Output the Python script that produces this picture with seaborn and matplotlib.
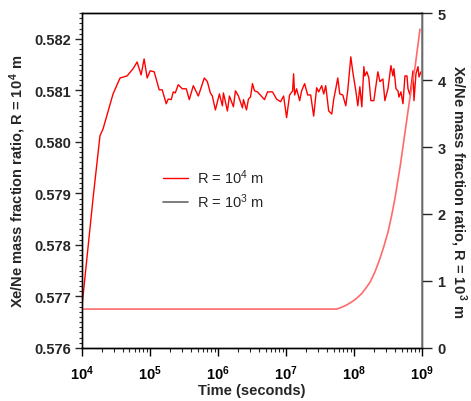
"""
Xe/Ne mass fraction ratio vs time for two radii (twin y axes, log time).
"""

import numpy as np
import pandas as pd
import matplotlib
matplotlib.use("Agg")
import matplotlib.pyplot as plt
import seaborn as sns
from matplotlib.lines import Line2D
from matplotlib.ticker import AutoMinorLocator, LogLocator, NullFormatter

# ─────────────────────────────────────────────
# Data
# ─────────────────────────────────────────────
# R = 10^4 m  -> left axis ; time given as log10(seconds)
log_t_10k = [
    4.000, 4.162, 4.265, 4.310, 4.457, 4.560, 4.664, 4.752, 4.811, 4.870,
    4.914, 4.959, 5.003, 5.062, 5.136, 5.180, 5.239, 5.268, 5.313, 5.342,
    5.372, 5.416, 5.475, 5.534, 5.578, 5.637, 5.711, 5.799, 5.844, 5.888,
    5.917, 5.962, 6.021, 6.065, 6.080, 6.139, 6.168, 6.227, 6.257, 6.301,
    6.360, 6.375, 6.419, 6.448, 6.478, 6.507, 6.537, 6.581, 6.684, 6.729,
    6.802, 6.861, 6.920, 6.965, 7.009, 7.053, 7.097, 7.112, 7.127, 7.156,
    7.201, 7.230, 7.274, 7.319, 7.363, 7.407, 7.451, 7.481, 7.525, 7.555,
    7.584, 7.628, 7.673, 7.702, 7.732, 7.761, 7.791, 7.835, 7.879, 7.909,
    7.953, 7.982, 8.027, 8.056, 8.086, 8.115, 8.145, 8.159, 8.189, 8.218,
    8.248, 8.292, 8.351, 8.381, 8.425, 8.454, 8.499, 8.543, 8.572, 8.587,
    8.617, 8.646, 8.661, 8.690, 8.720, 8.749, 8.779, 8.794, 8.823, 8.867,
    8.882, 8.911, 8.941, 8.956, 8.985,
]
ratio_10k = [
    0.57680, 0.57889, 0.58012, 0.58025, 0.58093, 0.58124, 0.58128, 0.58142, 0.58155, 0.58130,
    0.58161, 0.58124, 0.58138, 0.58136, 0.58101, 0.58101, 0.58074, 0.58083, 0.58082, 0.58097,
    0.58095, 0.58111, 0.58103, 0.58103, 0.58082, 0.58109, 0.58089, 0.58124, 0.58117, 0.58095,
    0.58089, 0.58062, 0.58093, 0.58070, 0.58095, 0.58060, 0.58089, 0.58068, 0.58099, 0.58089,
    0.58066, 0.58082, 0.58062, 0.58083, 0.58087, 0.58113, 0.58099, 0.58097, 0.58082, 0.58097,
    0.58097, 0.58083, 0.58078, 0.58089, 0.58047, 0.58091, 0.58099, 0.58132, 0.58091, 0.58103,
    0.58080, 0.58099, 0.58113, 0.58091, 0.58091, 0.58050, 0.58105, 0.58097, 0.58109, 0.58093,
    0.58109, 0.58060, 0.58054, 0.58083, 0.58103, 0.58124, 0.58093, 0.58091, 0.58070, 0.58101,
    0.58165, 0.58136, 0.58099, 0.58070, 0.58107, 0.58068, 0.58146, 0.58128, 0.58136, 0.58124,
    0.58080, 0.58080, 0.58136, 0.58117, 0.58122, 0.58080, 0.58103, 0.58148, 0.58128, 0.58142,
    0.58103, 0.58099, 0.58087, 0.58097, 0.58074, 0.58128, 0.58128, 0.58103, 0.58091, 0.58138,
    0.58080, 0.58132, 0.58146, 0.58126, 0.58136,
]

# R = 10^3 m  -> right axis
log_t_1k = [4.000, 5.000, 6.000, 7.000, 7.745, 7.800, 7.870, 7.940, 8.000,
            8.060, 8.120, 8.180, 8.235, 8.310, 8.380, 8.440, 8.500, 8.550,
            8.600, 8.680, 8.750, 8.820, 8.900, 8.970]
ratio_1k = [0.58, 0.58, 0.58, 0.58, 0.58, 0.60, 0.63, 0.67, 0.71,
            0.76, 0.82, 0.90, 0.98, 1.14, 1.33, 1.52, 1.73, 1.96,
            2.22, 2.72, 3.22, 3.72, 4.21, 4.76]

x_tick_exps = [4, 5, 6, 7, 8, 9]
left_ticks  = [0.576, 0.577, 0.578, 0.579, 0.580, 0.581, 0.582]
right_ticks = [0, 1, 2, 3, 4, 5]

df_10k = pd.DataFrame({"time": np.power(10.0, log_t_10k), "ratio": ratio_10k})
df_1k  = pd.DataFrame({"time": np.power(10.0, log_t_1k),  "ratio": ratio_1k})

# ─────────────────────────────────────────────
# Style
# ─────────────────────────────────────────────
sns.set_style("ticks")
plt.rcParams["font.family"] = ["Liberation Sans", "DejaVu Sans"]
plt.rcParams["mathtext.fontset"] = "custom"
plt.rcParams["mathtext.rm"] = "Liberation Sans"
plt.rcParams["mathtext.bf"] = "Liberation Sans:bold"
plt.rcParams["mathtext.default"] = "rm"

RED   = "#ff0000"
LIGHT = "#ff6a6a"

fig = plt.figure(figsize=(4.71, 4.02), dpi=100)
ax = fig.add_axes([0.174, 0.132, 0.722, 0.833])
ax2 = ax.twinx()

sns.lineplot(data=df_10k, x="time", y="ratio", ax=ax, color=RED, lw=1.0)
sns.lineplot(data=df_1k, x="time", y="ratio", ax=ax2, color=LIGHT, lw=1.2)

# x axis (log)
ax.set_xscale("log")
ax.set_xlim(1e4, 1e9)
ax.set_xticks([10.0 ** e for e in x_tick_exps])
ax.set_xticklabels([r"$\mathbf{10^{%d}}$" % e for e in x_tick_exps])
ax.xaxis.set_minor_locator(LogLocator(base=10, subs=np.arange(2, 10)))
ax.xaxis.set_minor_formatter(NullFormatter())
ax.set_xlabel("Time (seconds)", fontsize=10.5, fontweight="bold", labelpad=1)

# left axis
ax.set_ylim(0.576, 0.5825)
ax.set_yticks(left_ticks)
ax.set_yticklabels([f"{v:.3f}" for v in left_ticks])
ax.yaxis.set_minor_locator(AutoMinorLocator(10))
ax.set_ylabel(r"Xe/Ne mass fraction ratio, R = $\mathbf{10^{\,4}}$ m",
              fontsize=10.5, fontweight="bold", labelpad=4)

# right axis
ax2.set_ylim(0, 5)
ax2.set_yticks(right_ticks)
ax2.set_yticklabels([str(v) for v in right_ticks])
ax2.set_ylabel(r"Xe/Ne mass fraction ratio, R = $\mathbf{10^{\,3}}$ m",
               fontsize=10.5, fontweight="bold", rotation=270,
               va="center", ha="center")
ax2.yaxis.set_label_coords(1.107, 0.47)

for a in (ax, ax2):
    for lbl in a.get_xticklabels() + a.get_yticklabels():
        lbl.set_fontweight("bold")
        lbl.set_fontsize(10.5)

ax.tick_params(axis="x", which="major", direction="out", length=6, width=1, pad=5, colors="black")
ax.tick_params(axis="x", which="minor", direction="out", length=3, width=0.8)
ax.tick_params(axis="y", which="major", direction="out", length=5, width=1, pad=3)
ax.tick_params(axis="y", which="minor", direction="out", length=2.5, width=0.8)
ax2.tick_params(axis="y", which="major", direction="out", length=7, width=1, pad=4)

for a in (ax, ax2):
    for s in a.spines.values():
        s.set_visible(True)
        s.set_linewidth(1.0)
        s.set_color("black")
ax2.spines["right"].set_color("#808080")
ax2.spines["right"].set_linewidth(1.2)
ax.spines["left"].set_color("#404040")

# legend (handle colours as in the original)
handles = [Line2D([], [], color=RED, lw=1.0),
           Line2D([], [], color="#666666", lw=1.2)]
labels = [r"R = 10$^{4}$ m", r"R = 10$^{3}$ m"]
ax.legend(handles, labels, loc="center left", bbox_to_anchor=(0.2, 0.475),
          frameon=False, fontsize=10.5, handlelength=1.7, handletextpad=0.6,
          labelspacing=0.4)

fig.savefig("out.png", dpi=100)
